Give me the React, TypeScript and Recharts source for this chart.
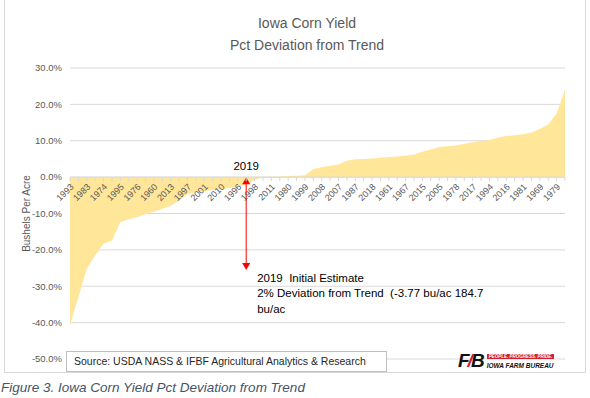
import React from "react";
import {
  AreaChart,
  Area,
  XAxis,
  YAxis,
  CartesianGrid,
  ReferenceLine,
} from "recharts";

// years sorted from worst to best deviation
const years = [
  "1993", "1988", "1983", "2012", "1974", "1970", "1995", "1977", "1976", "1984",
  "1960", "1991", "2013", "1964", "1997", "1989", "2001", "1966", "2010", "2002",
  "1996", "2019", "1998", "1962", "2011", "1990", "1980", "1973", "1999", "2006",
  "2008", "1971", "2007", "1968", "1987", "2000", "2018", "1963", "1961", "1965",
  "1967", "1975", "2015", "2009", "2005", "1982", "1978", "1985", "2017", "1972",
  "1994", "2003", "2016", "2014", "1981", "1986", "1969", "1992", "1979", "2004",
];

// pct deviation from trend
const pctDeviation = [
  -40.7, -33.0, -25.2, -21.5, -18.3, -17.4, -12.4, -11.6, -11.0, -10.2,
  -9.5, -8.7, -7.9, -6.5, -4.7, -4.1, -3.8, -3.6, -3.4, -3.0,
  -2.5, -2.0, -0.8, 0.0, 0.1, 0.2, 0.3, 0.4, 0.5, 2.2,
  2.7, 3.1, 3.5, 4.5, 4.9, 5.0, 5.1, 5.3, 5.5, 5.7,
  5.9, 6.2, 7.0, 7.6, 8.3, 8.5, 8.7, 9.2, 9.6, 9.9,
  10.2, 10.9, 11.3, 11.5, 11.8, 12.3, 13.2, 14.5, 17.5, 24.0,
];

const yTicks = [30, 20, 10, 0, -10, -20, -30, -40, -50];
const estimateYear = "2019";
const arrowBottom = -25.5;

const data = years.map((year, i) => ({ year, pct: pctDeviation[i] }));

const FONT = "'Liberation Sans', Arial, sans-serif";
const CHART_W = 590;
const CHART_H = 372;
const TOP = 68;
const X_AXIS_H = 13;
const Y_MIN = -50;
const Y_MAX = 30;
const PLOT_H = CHART_H - TOP - X_AXIS_H;
const ZERO_Y = TOP + (PLOT_H * Y_MAX) / (Y_MAX - Y_MIN);

function YearTick(props: any) {
  const { x, payload, index } = props;
  const ty = ZERO_Y + 8;
  return (
    <g>
      <line x1={x} x2={x} y1={ZERO_Y} y2={ZERO_Y + 4} stroke="#d9d9d9" />
      {index % 2 === 0 && (
        <text
          x={x + 2}
          y={ty}
          dy="0.35em"
          textAnchor="end"
          fontSize={9}
          fill="#595959"
          transform={`rotate(-45 ${x + 2} ${ty})`}
        >
          {payload.value}
        </text>
      )}
    </g>
  );
}

function EstimateArrow(props: any) {
  const { x1, y1, y2 } = props;
  const x = x1;
  return (
    <g>
      <line x1={x} x2={x} y1={y1 + 5} y2={y2 - 5} stroke="#ff0000" strokeWidth={1} />
      <polygon points={`${x},${y1} ${x - 4},${y1 + 7} ${x + 4},${y1 + 7}`} fill="#ff0000" />
      <polygon points={`${x},${y2} ${x - 4},${y2 - 7} ${x + 4},${y2 - 7}`} fill="#ff0000" />
      <text x={x} y={y1 - 7} textAnchor="middle" fontSize={11.5} fill="#000">
        2019
      </text>
      <text x={x + 11} y={y2 + 12} fontSize={11.5} fill="#000" style={{ whiteSpace: "pre" }}>
        <tspan x={x + 11}>{"2019  Initial Estimate"}</tspan>
        <tspan x={x + 11} dy={15.5}>{"2% Deviation from Trend  (-3.77 bu/ac 184.7"}</tspan>
        <tspan x={x + 11} dy={15.5}>bu/ac</tspan>
      </text>
    </g>
  );
}

export default function App() {
  return (
    <div
      style={{
        position: "absolute",
        left: 0,
        top: 0,
        width: 590,
        height: 398,
        background: "#fff",
        fontFamily: FONT,
        overflow: "hidden",
      }}
    >
      <div
        style={{
          position: "absolute",
          left: 4,
          top: -1,
          width: 580,
          height: 372,
          border: "1px solid #d9d9d9",
        }}
      />
      <div
        style={{
          position: "absolute",
          left: 207,
          top: 12,
          width: 200,
          textAlign: "center",
          fontSize: 14,
          lineHeight: "22px",
          color: "#595959",
        }}
      >
        Iowa Corn Yield
        <br />
        Pct Deviation from Trend
      </div>
      <div style={{ position: "absolute", left: 0, top: 0 }}>
        <AreaChart
          width={CHART_W}
          height={CHART_H}
          data={data}
          margin={{ top: TOP, right: 25, bottom: 0, left: 0 }}
        >
          <CartesianGrid vertical={false} stroke="#d9d9d9" />
          <XAxis
            dataKey="year"
            interval={0}
            height={X_AXIS_H}
            axisLine={false}
            tickLine={false}
            tickSize={0}
            tickMargin={0}
            tick={(p: any) => <YearTick {...p} />}
          />
          <YAxis
            width={70}
            domain={[Y_MIN, Y_MAX]}
            ticks={yTicks}
            axisLine={false}
            tickLine={false}
            tickSize={0}
            tickMargin={8}
            tick={{ fontSize: 9.5, fill: "#595959" }}
            tickFormatter={(v: number) => `${v.toFixed(1)}%`}
            label={{
              value: "Bushels Per Acre",
              angle: -90,
              position: "center",
              dx: -9,
              fontSize: 10,
              fill: "#595959",
            }}
          />
          <Area
            type="linear"
            dataKey="pct"
            stroke="none"
            fill="#ffe699"
            fillOpacity={1}
            isAnimationActive={false}
          />
          <ReferenceLine y={0} stroke="#d9d9d9" />
          <ReferenceLine
            segment={[
              { x: estimateYear, y: 0 },
              { x: estimateYear, y: arrowBottom },
            ]}
            shape={(p: any) => <EstimateArrow {...p} />}
          />
        </AreaChart>
      </div>
      <div
        style={{
          position: "absolute",
          left: 66,
          top: 351,
          width: 312,
          height: 19,
          border: "1px solid #bfbfbf",
          background: "#fff",
          fontSize: 10.5,
          lineHeight: "19px",
          color: "#262626",
          paddingLeft: 7,
          boxSizing: "content-box",
          whiteSpace: "nowrap",
        }}
      >
        Source: USDA NASS &amp; IFBF Agricultural Analytics &amp; Research
      </div>
      <div
        style={{
          position: "absolute",
          left: 458,
          top: 352,
          display: "flex",
          alignItems: "center",
          gap: 4,
        }}
      >
        <div
          style={{
            fontSize: 19,
            fontWeight: 900,
            fontStyle: "italic",
            lineHeight: "18px",
            letterSpacing: -2,
            color: "#111",
          }}
        >
          F<span style={{ color: "#d0202e" }}>/</span>B
        </div>
        <div style={{ display: "flex", flexDirection: "column", gap: 3 }}>
          <div
            style={{
              background: "#d0202e",
              color: "#fff",
              fontSize: 4.5,
              fontWeight: 700,
              fontStyle: "italic",
              lineHeight: "5px",
              padding: "0 2px",
              whiteSpace: "nowrap",
            }}
          >
            PEOPLE. PROGRESS. PRIDE.
          </div>
          <div
            style={{
              fontSize: 6.5,
              fontWeight: 700,
              fontStyle: "italic",
              lineHeight: "7px",
              color: "#111",
              whiteSpace: "nowrap",
            }}
          >
            IOWA FARM BUREAU
          </div>
        </div>
      </div>
      <div
        style={{
          position: "absolute",
          left: 1,
          top: 380,
          fontSize: 13.5,
          fontStyle: "italic",
          color: "#44546a",
          whiteSpace: "nowrap",
        }}
      >
        Figure 3. Iowa Corn Yield Pct Deviation from Trend
      </div>
    </div>
  );
}
